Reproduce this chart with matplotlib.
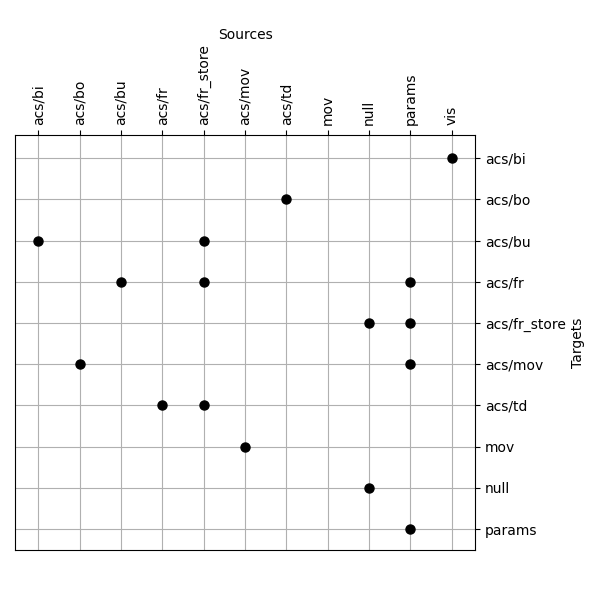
import matplotlib
matplotlib.use("Agg")
import matplotlib.pyplot as plt

sources = ['acs/bi', 'acs/bo', 'acs/bu', 'acs/fr', 'acs/fr_store', 'acs/mov',
           'acs/td', 'mov', 'null', 'params', 'vis']
targets = ['acs/bi', 'acs/bo', 'acs/bu', 'acs/fr', 'acs/fr_store', 'acs/mov',
           'acs/td', 'mov', 'null', 'params']

# (target, source) pairs
edge_targets = ['acs/bi', 'acs/bo', 'acs/bu', 'acs/bu', 'acs/fr', 'acs/fr', 'acs/fr',
                'acs/fr_store', 'acs/fr_store', 'acs/mov', 'acs/mov', 'acs/td',
                'acs/td', 'mov', 'null', 'params']
edge_sources = ['vis', 'acs/td', 'acs/bi', 'acs/fr_store', 'acs/bu', 'acs/fr_store',
                'params', 'null', 'params', 'acs/bo', 'params', 'acs/fr',
                'acs/fr_store', 'acs/mov', 'null', 'params']

fig = plt.figure(figsize=(6, 6), dpi=100)
ax = fig.add_axes([0.025, 0.0833, 0.7667, 0.6917])

xs = [sources.index(s) for s in edge_sources]
ys = [targets.index(t) for t in edge_targets]
ax.plot(xs, ys, 'o', color='black', markersize=6.5, zorder=3)

ax.set_xticks(range(len(sources)))
ax.set_xticklabels(sources, rotation=90)
ax.set_yticks(range(len(targets)))
ax.set_yticklabels(targets)
ax.set_xlim(-0.56, len(sources) - 0.44)
ax.set_ylim(len(targets) - 0.49, -0.56)

ax.xaxis.tick_top()
ax.xaxis.set_label_position('top')
ax.yaxis.tick_right()
ax.yaxis.set_label_position('right')
ax.set_xlabel('Sources', labelpad=4)
ax.set_ylabel('Targets', labelpad=4)
ax.grid(True, color='#b0b0b0', linewidth=0.8)
ax.set_axisbelow(True)

fig.savefig('out.png', dpi=100)
